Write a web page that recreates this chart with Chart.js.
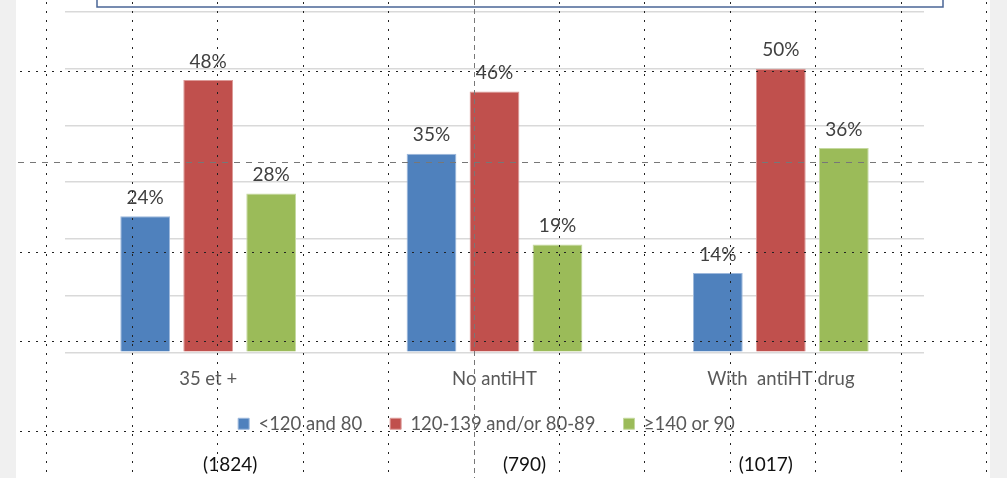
<!DOCTYPE html>
<html><head><meta charset="utf-8">
<script src="https://cdn.jsdelivr.net/npm/chart.js@4/dist/chart.umd.min.js"></script>
<style>
html,body{margin:0;padding:0;background:#fff;}
#wrap{position:relative;width:1007px;height:478px;}
</style></head>
<body><div id="wrap"><canvas id="c" width="1007" height="478"></canvas></div>
<script>
const categories = ["35 et +", "No antiHT", "With  antiHT drug"];
const counts = ["(1824)", "(790)", "(1017)"];
const seriesNames = ["<120 and 80", "120-139 and/or 80-89", "\u2265140 or 90"];
const seriesLow = [24, 35, 14];
const seriesMid = [48, 46, 50];
const seriesHigh = [28, 19, 36];
const colors = ["#4F81BD", "#C0504D", "#9BBB59"];
const countOffsets = [22, 30, -15];

const FONT = "Lato, 'Open Sans', sans-serif";
const LEG_PAD = 28, LEG_SHIFT = 20, LEG_SHIFT_X = 8;

const legendTune = {
  id: 'legendTune',
  afterLayout(chart) {
    const L = chart.legend;
    if (!L) return;
    L.top -= LEG_SHIFT; L.bottom -= LEG_SHIFT;
    L.left -= LEG_SHIFT_X; L.right -= LEG_SHIFT_X;
  }
};

const decor = {
  id: 'decor',
  beforeDraw(chart) {
    const ctx = chart.ctx;
    ctx.save();
    ctx.fillStyle = '#f0f0f0';
    ctx.fillRect(0, 0, 16, 478);
    ctx.fillRect(990, 0, 17, 478);
    ctx.restore();
  },
  afterDatasetsDraw(chart) {
    const ctx = chart.ctx;
    ctx.save();
    ctx.font = "19px " + FONT;
    ctx.fillStyle = '#404040';
    ctx.textAlign = 'center';
    ctx.textBaseline = 'bottom';
    chart.data.datasets.forEach((ds, di) => {
      chart.getDatasetMeta(di).data.forEach((bar, i) => {
        ctx.fillText(ds.data[i] + '%', bar.x, bar.y - 9);
      });
    });
    ctx.restore();
  },
  afterDraw(chart) {
    const ctx = chart.ctx;
    const xs = chart.scales.x;
    ctx.save();
    ctx.font = "19px " + FONT;
    ctx.fillStyle = '#111';
    ctx.textAlign = 'center';
    ctx.textBaseline = 'middle';
    counts.forEach((t, i) => ctx.fillText(t, xs.getPixelForValue(i) + countOffsets[i], 465));
    ctx.strokeStyle = '#4a6596';
    ctx.lineWidth = 1.5;
    ctx.strokeRect(97, -5, 846, 12);
    ctx.fillStyle = '#222';
    const vx = [46, 132, 217, 303, 388, 559, 644, 730, 815, 901, 986];
    vx.forEach(x => { for (let y = 2; y < 478; y += 9) ctx.fillRect(x, y, 1, 2); });
    const hy = [71, 252, 341, 431];
    hy.forEach(y => { for (let x = 20; x < 985; x += 8) ctx.fillRect(x, y, 2, 1); });
    ctx.fillStyle = '#777';
    for (let y = 0; y < 478; y += 9) ctx.fillRect(474, y, 1, 5);
    for (let x = 18; x < 990; x += 12) ctx.fillRect(x, 162, 6, 1);
    ctx.restore();
  }
};

new Chart(document.getElementById('c'), {
  type: 'bar',
  data: {
    labels: categories,
    datasets: [
      { label: seriesNames[0], data: seriesLow, backgroundColor: colors[0], borderColor: '#9db8dc', borderWidth: 1 },
      { label: seriesNames[1], data: seriesMid, backgroundColor: colors[1], borderColor: '#dc9a98', borderWidth: 1 },
      { label: seriesNames[2], data: seriesHigh, backgroundColor: colors[2], borderColor: '#c5d9a0', borderWidth: 1 }
    ]
  },
  options: {
    responsive: false,
    animation: false,
    layout: { padding: { left: 65, right: 83, top: 12, bottom: 15 } },
    datasets: { bar: { categoryPercentage: 0.66, barPercentage: 0.79 } },
    scales: {
      y: {
        min: 0, max: 60,
        ticks: { display: false, stepSize: 10 },
        grid: { color: '#d9d9d9', lineWidth: 1.5, drawTicks: false },
        border: { display: false }
      },
      x: {
        grid: { display: false, drawTicks: false },
        border: { display: false },
        ticks: { color: '#595959', font: { family: FONT, size: 18.5 }, padding: 16 }
      }
    },
    plugins: {
      legend: {
        position: 'bottom',
        labels: { color: '#595959', font: { family: FONT, size: 18.5 }, boxWidth: 11, boxHeight: 11, padding: LEG_PAD }
      },
      tooltip: { enabled: false }
    }
  },
  plugins: [legendTune, decor]
});
</script></body></html>
